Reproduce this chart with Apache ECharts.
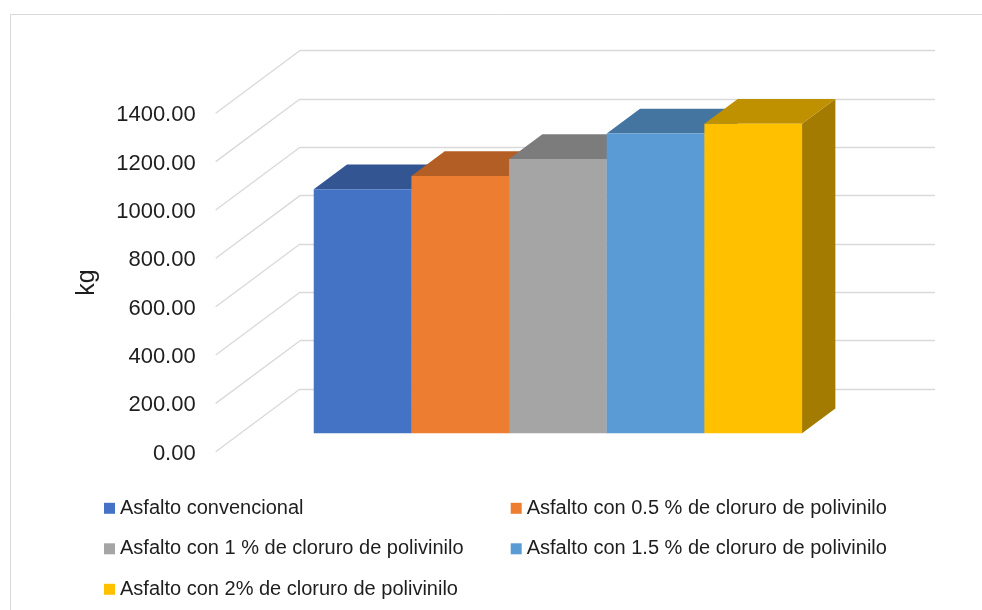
<!DOCTYPE html>
<html>
<head>
<meta charset="utf-8">
<title>kg</title>
<script src="https://cdn.jsdelivr.net/npm/echarts@6/dist/echarts.min.js"></script>
<style>
  html, body { margin: 0; padding: 0; background: #ffffff; }
  #chart { width: 982px; height: 610px; }
</style>
</head>
<body>
<div id="chart"></div>
<script>
// Series names (one bar each) and their values in kg
const SERIES_NAMES = [
  'Asfalto convencional',
  'Asfalto con 0.5 % de cloruro de polivinilo',
  'Asfalto con 1 % de cloruro de polivinilo',
  'Asfalto con 1.5 % de cloruro de polivinilo',
  'Asfalto con 2% de cloruro de polivinilo'
];
const VALUES = [1010, 1065, 1135, 1240, 1281];

// Value axis ticks
const Y_TICKS = [0, 200, 400, 600, 800, 1000, 1200, 1400];

// Palette
const COLORS = ['#4472C4', '#ED7D31', '#A5A5A5', '#5B9BD5', '#FFC000'];
const TOP_SHADE = 0.75;
const SIDE_SHADE = 0.64;
const GRID_COLOR = '#D9D9D9';
const TEXT_COLOR = '#1e1e1e';
const FONT = "'Liberation Sans', Arial, sans-serif";

// Oblique projection: front plane of the plot and the offset to the back wall
const FRONT = { left: 215.7, right: 131.3, top: 113.3, bottom: 158.3 };
const DEPTH = { x: 84.3, y: -62.7 };
const BAR_FRONT = 0.293;   // fraction of depth where bars start
const BAR_BACK = 0.688;    // fraction of depth where bars end
const GROUP_FRACTION = 0.769; // share of the category band used by the bars

// Legend layout: two columns, three rows
const LEGEND_COLS = [104, 510.7];
const LEGEND_ROWS = [508.3, 548.8, 589.3];
const LEGEND_ICON = 11;

function shade(hex, k) {
  const n = parseInt(hex.slice(1), 16);
  const r = Math.round(((n >> 16) & 255) * k);
  const g = Math.round(((n >> 8) & 255) * k);
  const b = Math.round((n & 255) * k);
  return 'rgb(' + r + ',' + g + ',' + b + ')';
}

const yMin = Y_TICKS[0];
const yMax = Y_TICKS[Y_TICKS.length - 1];
const yStep = Y_TICKS[1] - Y_TICKS[0];

// 3D box for one bar, placed through the front grid's scales
function renderBar(params, api) {
  const idx = api.value(2);
  const val = api.value(1);
  const base = api.coord([0, 0]);
  const top = api.coord([0, val]);
  const band = api.size([1, 0])[0];
  const n = SERIES_NAMES.length;
  const w = band * GROUP_FRACTION / n;
  const x0 = base[0] - w * n / 2 + idx * w + DEPTH.x * BAR_FRONT;
  const yb = base[1] + DEPTH.y * BAR_FRONT;
  const yt = top[1] + DEPTH.y * BAR_FRONT;
  const dx = DEPTH.x * (BAR_BACK - BAR_FRONT);
  const dy = DEPTH.y * (BAR_BACK - BAR_FRONT);
  const c = COLORS[idx];
  return {
    type: 'group',
    children: [
      {
        type: 'polygon',
        shape: { points: [[x0 + w, yt], [x0 + w + dx, yt + dy], [x0 + w + dx, yb + dy], [x0 + w, yb]] },
        style: { fill: shade(c, SIDE_SHADE) }
      },
      {
        type: 'polygon',
        shape: { points: [[x0, yt], [x0 + dx, yt + dy], [x0 + w + dx, yt + dy], [x0 + w, yt]] },
        style: { fill: shade(c, TOP_SHADE) }
      },
      {
        type: 'rect',
        shape: { x: x0, y: yt, width: w, height: yb - yt },
        style: { fill: c }
      }
    ]
  };
}

// Side wall lines joining each front tick to the back wall gridline
function renderWallLine(params, api) {
  const p = api.coord([0, api.value(1)]);
  const x = params.coordSys.x;
  return {
    type: 'line',
    shape: { x1: x, y1: p[1], x2: x + DEPTH.x, y2: p[1] + DEPTH.y },
    style: { stroke: GRID_COLOR, lineWidth: 1.3 }
  };
}

const chart = echarts.init(document.getElementById('chart'), null, { renderer: 'canvas' });

const barSeries = SERIES_NAMES.map((name, i) => ({
  name: name,
  type: 'custom',
  xAxisIndex: 0,
  yAxisIndex: 0,
  renderItem: renderBar,
  itemStyle: { color: COLORS[i] },
  encode: { x: 0, y: 1 },
  data: [[0, VALUES[i], i]],
  z: 3 + i,
  silent: true
}));

// One legend component per entry, laid out row by row in two columns
const legends = SERIES_NAMES.map((name, i) => ({
  data: [name],
  orient: 'horizontal',
  left: LEGEND_COLS[i % 2],
  top: LEGEND_ROWS[Math.floor(i / 2)] - LEGEND_ICON,
  padding: 0,
  icon: 'rect',
  itemWidth: LEGEND_ICON,
  itemHeight: LEGEND_ICON,
  selectedMode: false,
  textStyle: { fontSize: 20, lineHeight: 22, color: TEXT_COLOR, fontFamily: FONT }
}));

const option = {
  animation: false,
  backgroundColor: '#ffffff',
  textStyle: { fontFamily: FONT },
  graphic: [
    {
      type: 'rect',
      shape: { x: 10.5, y: 14.5, width: 1000, height: 700 },
      style: { fill: 'none', stroke: GRID_COLOR, lineWidth: 1 },
      silent: true
    }
  ],
  grid: [
    { left: FRONT.left, right: FRONT.right, top: FRONT.top, bottom: FRONT.bottom },
    {
      left: FRONT.left + DEPTH.x,
      right: FRONT.right - DEPTH.x,
      top: FRONT.top + DEPTH.y,
      bottom: FRONT.bottom - DEPTH.y
    }
  ],
  xAxis: [
    { type: 'category', gridIndex: 0, data: [''], show: false },
    { type: 'category', gridIndex: 1, data: [''], show: false }
  ],
  yAxis: [
    {
      type: 'value',
      gridIndex: 0,
      min: yMin,
      max: yMax,
      interval: yStep,
      axisLine: { show: false },
      axisTick: { show: false },
      splitLine: { show: false },
      axisLabel: {
        margin: 20,
        fontSize: 22,
        color: TEXT_COLOR,
        fontFamily: FONT,
        verticalAlign: 'top',
        lineHeight: 4,
        formatter: v => v.toFixed(2)
      },
      name: 'kg',
      nameLocation: 'middle',
      nameRotate: 90,
      nameGap: 116,
      nameTextStyle: { fontSize: 25, color: TEXT_COLOR, fontFamily: FONT }
    },
    {
      type: 'value',
      gridIndex: 1,
      min: yMin,
      max: yMax,
      interval: yStep,
      axisLine: { show: false },
      axisTick: { show: false },
      axisLabel: { show: false },
      splitLine: { show: true, lineStyle: { color: GRID_COLOR, width: 1.3 } }
    }
  ],
  legend: legends,
  series: [
    {
      type: 'custom',
      xAxisIndex: 0,
      yAxisIndex: 0,
      renderItem: renderWallLine,
      encode: { x: 0, y: 1 },
      data: Y_TICKS.map(v => [0, v]),
      z: 1,
      silent: true
    }
  ].concat(barSeries)
};

chart.setOption(option);
</script>
</body>
</html>
